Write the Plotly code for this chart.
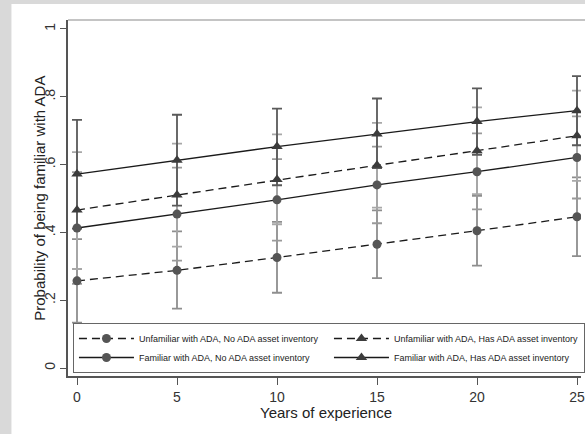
import plotly.graph_objects as go

# ---------------- data ----------------
years = [0, 5, 10, 15, 20, 25]

names = [
    "Unfamiliar with ADA, No ADA asset inventory",
    "Familiar with ADA, No ADA asset inventory",
    "Unfamiliar with ADA, Has ADA asset inventory",
    "Familiar with ADA, Has ADA asset inventory",
]

unfam_noinv = [0.257, 0.288, 0.326, 0.365, 0.405, 0.446]
unfam_noinv_lo = [0.134, 0.175, 0.222, 0.265, 0.302, 0.330]
unfam_noinv_hi = [0.380, 0.403, 0.431, 0.465, 0.508, 0.562]

fam_noinv = [0.413, 0.454, 0.496, 0.540, 0.579, 0.621]
fam_noinv_lo = [0.248, 0.317, 0.376, 0.427, 0.468, 0.500]
fam_noinv_hi = [0.578, 0.591, 0.616, 0.653, 0.692, 0.742]

unfam_inv = [0.466, 0.510, 0.556, 0.598, 0.641, 0.685]
unfam_inv_lo = [0.292, 0.358, 0.424, 0.473, 0.513, 0.552]
unfam_inv_hi = [0.637, 0.662, 0.689, 0.723, 0.769, 0.818]

fam_inv = [0.572, 0.613, 0.653, 0.690, 0.727, 0.759]
fam_inv_lo = [0.411, 0.479, 0.539, 0.590, 0.629, 0.657]
fam_inv_hi = [0.732, 0.747, 0.765, 0.795, 0.825, 0.861]

y_tickvals = [0, 0.2, 0.4, 0.6, 0.8, 1]
y_ticktext = ["0", ".2", ".4", ".6", ".8", "1"]

# ---------------- styles ----------------
FONT = "Liberation Sans, Arial, sans-serif"
series = [
    dict(name=names[0], m=unfam_noinv, lo=unfam_noinv_lo, hi=unfam_noinv_hi,
         dash="8px,5px", symbol="circle", size=9, mcol="#555555", cicol="#8e8e8e", rank=1),
    dict(name=names[1], m=fam_noinv, lo=fam_noinv_lo, hi=fam_noinv_hi,
         dash="solid", symbol="circle", size=9, mcol="#555555", cicol="#9a9a9a", rank=3),
    dict(name=names[2], m=unfam_inv, lo=unfam_inv_lo, hi=unfam_inv_hi,
         dash="8px,5px", symbol="triangle-up", size=10, mcol="#3c3c3c", cicol="#a8a8a8", rank=2),
    dict(name=names[3], m=fam_inv, lo=fam_inv_lo, hi=fam_inv_hi,
         dash="solid", symbol="triangle-up", size=10, mcol="#3c3c3c", cicol="#5a5a5a", rank=4),
]

fig = go.Figure()

# confidence intervals first (under the lines)
for s in series:
    fig.add_trace(go.Scatter(
        x=years, y=s["m"], mode="markers",
        marker=dict(opacity=0, size=1),
        error_y=dict(type="data", symmetric=False,
                     array=[h - m for h, m in zip(s["hi"], s["m"])],
                     arrayminus=[m - l for m, l in zip(s["m"], s["lo"])],
                     color=s["cicol"], thickness=1.8, width=5),
        showlegend=False, hoverinfo="skip"))

# lines + markers
for s in series:
    fig.add_trace(go.Scatter(
        x=years, y=s["m"], mode="lines+markers", name=s["name"],
        line=dict(color="#1a1a1a", width=1.3, dash=s["dash"]),
        marker=dict(symbol=s["symbol"], size=s["size"], color=s["mcol"]),
        legendrank=s["rank"]))

L, T, W, H = 68, 20, 517, 356

def px(p):
    return (p - L) / W

def py(p):
    return (T + H - p) / H

fig.update_layout(
    width=585, height=434,
    margin=dict(l=L, r=0, t=T, b=434 - T - H),
    paper_bgcolor="#d9d9d9", plot_bgcolor="white",
    font=dict(family=FONT, color="#222222"),
    showlegend=True,
    legend=dict(orientation="h", x=px(73), y=py(373), xanchor="left", yanchor="bottom",
                bgcolor="white", bordercolor="#666666", borderwidth=1,
                font=dict(size=9, family=FONT, color="#222222"),
                entrywidth=185, itemwidth=55, traceorder="normal"),
    xaxis=dict(range=[-0.45, 25.2], tickvals=years, ticks="outside", ticklen=7,
               tickwidth=1.3, tickcolor="#555555", showline=True, linecolor="#555555",
               linewidth=1.6, showgrid=False, zeroline=False, ticklabeloverflow="allow",
               tickfont=dict(size=14, color="#333333")),
    yaxis=dict(range=[-0.0236, 1.0265], tickvals=y_tickvals, ticktext=y_ticktext,
               tickangle=-90, ticks="outside", ticklen=6, tickwidth=1.3,
               tickcolor="#555555", showline=True, linecolor="#555555", linewidth=1.6,
               showgrid=False, zeroline=False, tickfont=dict(size=14, color="#333333")),
    shapes=[
        dict(type="rect", xref="paper", yref="paper", x0=px(11), x1=1.2, y0=-0.3, y1=py(4),
             fillcolor="white", line=dict(width=0), layer="below"),
        dict(type="line", xref="paper", yref="paper", x0=0, x1=1.05, y0=1, y1=1,
             line=dict(color="#8a8a8a", width=1.2)),
    ],
    annotations=[
        dict(text="Probability of being familiar with ADA", xref="paper", yref="paper",
             x=px(39), y=py(198.5), textangle=-90, showarrow=False,
             xanchor="center", yanchor="middle", font=dict(size=15, color="#222222")),
        dict(text="Years of experience", xref="paper", yref="paper",
             x=px(328), y=py(412), showarrow=False, xanchor="center", yanchor="middle",
             font=dict(size=15, color="#222222")),
    ],
)

fig.write_html("out.html", config={"displayModeBar": False},
               post_script="document.body.style.margin='0';")
